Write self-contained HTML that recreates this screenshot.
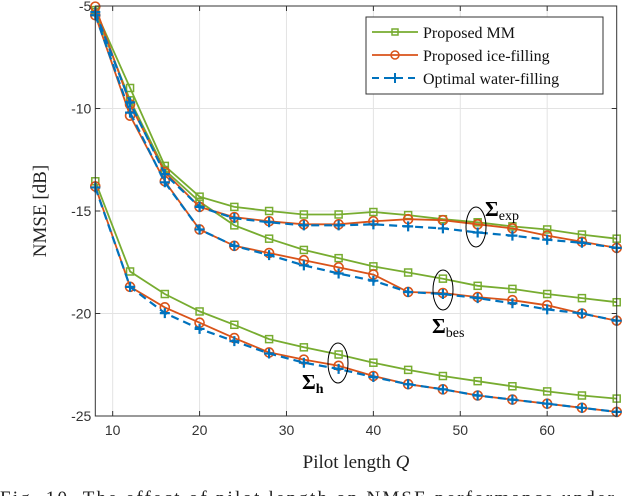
<!DOCTYPE html>
<html><head><meta charset="utf-8"><style>
body{margin:0;background:#fff}
svg{display:block;font-family:"Liberation Sans",sans-serif}
.serif{font-family:"Liberation Serif",serif}
</style></head><body>
<svg id="chart" width="622" height="496" viewBox="0 0 622 496" xmlns="http://www.w3.org/2000/svg">
<g id="grid"></g>
<g id="series"></g>
<g id="axes"></g>
<text class="serif" transform="translate(46,211) rotate(-90)" text-anchor="middle" font-size="19" fill="#222">NMSE [dB]</text>
<text class="serif" x="356" y="468" text-anchor="middle" font-size="19" fill="#222">Pilot length <tspan font-style="italic">Q</tspan></text>
<text class="serif" x="0" y="504" font-size="19" textLength="640" lengthAdjust="spacing" fill="#222">Fig. 10.   The effect of pilot length on NMSE performance under th</text>
<g fill="none" stroke="#000" stroke-width="1">
<ellipse cx="476" cy="227" rx="10" ry="20"/>
<ellipse cx="443" cy="290" rx="10" ry="20"/>
<ellipse cx="338" cy="363" rx="10" ry="20"/>
</g>
<text class="serif" x="485" y="216" font-size="21" font-weight="bold">Σ<tspan font-size="14" font-weight="normal" dy="4">exp</tspan></text>
<text class="serif" x="432" y="333" font-size="21" font-weight="bold">Σ<tspan font-size="14" font-weight="normal" dy="4">bes</tspan></text>
<text class="serif" x="302" y="389" font-size="21" font-weight="bold">Σ<tspan font-size="14" font-weight="bold" dy="4">h</tspan></text>
<g>
<rect x="366" y="17" width="237" height="77" fill="#fff" stroke="#333" stroke-width="1"/>
<g>
<line x1="372" y1="32" x2="418" y2="32" stroke="#77ac30" stroke-width="1.8"/>
<rect x="392" y="29" width="6" height="6" fill="none" stroke="#77ac30" stroke-width="1.5"/>
<text class="serif" x="423" y="38" font-size="16" fill="#111">Proposed MM</text></g>
<g>
<line x1="372" y1="55" x2="418" y2="55" stroke="#d95319" stroke-width="1.8"/>
<circle cx="395" cy="55" r="4" fill="none" stroke="#d95319" stroke-width="1.5"/>
<text class="serif" x="423" y="61" font-size="16" fill="#111">Proposed ice-filling</text></g>
<g>
<line x1="372" y1="78" x2="418" y2="78" stroke="#0072bd" stroke-width="2" stroke-dasharray="7,5"/>
<path d="M390 78h10M395 73v10" stroke="#0072bd" stroke-width="2"/>
<text class="serif" x="423" y="84" font-size="16" fill="#111">Optimal water-filling</text></g>
</g>
</svg>
<script>
const Q = [8,12,16,20,24,28,32,36,40,44,48,52,56,60,64,68];
const xTicks = [10,20,30,40,50,60];
const yTicks = [-5,-10,-15,-20,-25];
const mmExp = [-5.2,-9.0,-12.8,-14.3,-14.8,-15.0,-15.17,-15.17,-15.05,-15.2,-15.4,-15.55,-15.75,-15.9,-16.15,-16.35];
const iceExp = [-5.03,-9.8,-13.1,-14.8,-15.3,-15.5,-15.65,-15.65,-15.5,-15.4,-15.45,-15.65,-15.85,-16.2,-16.5,-16.8];
const waterExp = [-5.3,-9.7,-13.2,-14.8,-15.35,-15.55,-15.7,-15.7,-15.65,-15.75,-15.85,-16.05,-16.2,-16.4,-16.55,-16.8];
const mmBes = [-5.3,-9.6,-13.0,-14.55,-15.7,-16.35,-16.9,-17.3,-17.7,-18.0,-18.3,-18.65,-18.8,-19.05,-19.25,-19.45];
const iceBes = [-5.45,-10.35,-13.55,-15.9,-16.7,-17.05,-17.4,-17.75,-18.1,-18.95,-19.0,-19.2,-19.35,-19.6,-20.0,-20.35];
const waterBes = [-5.45,-10.2,-13.6,-15.9,-16.7,-17.15,-17.65,-18.05,-18.4,-18.95,-19.05,-19.25,-19.5,-19.8,-20.0,-20.35];
const mmH = [-13.55,-17.95,-19.05,-19.9,-20.55,-21.25,-21.65,-22.0,-22.4,-22.75,-23.05,-23.3,-23.55,-23.8,-24.0,-24.15];
const iceH = [-13.8,-18.7,-19.7,-20.45,-21.2,-21.9,-22.25,-22.55,-23.05,-23.45,-23.7,-24.0,-24.2,-24.4,-24.6,-24.8];
const waterH = [-13.85,-18.7,-19.98,-20.75,-21.35,-21.95,-22.4,-22.7,-23.1,-23.45,-23.7,-24.0,-24.2,-24.4,-24.6,-24.8];

const NS="http://www.w3.org/2000/svg";
const X0=95.3,X1=616.7,Y0=6,Y1=416;
const sx=v=>X0+(v-8)/(68-8)*(X1-X0);
const sy=v=>Y0+(-5-v)/(20)*(Y1-Y0);
function mk(tag,parent,attrs){const e=document.createElementNS(NS,tag);for(const k in attrs)e.setAttribute(k,attrs[k]);parent.appendChild(e);return e;}
const grid=document.getElementById('grid'),axes=document.getElementById('axes'),ser=document.getElementById('series');
mk('rect',grid,{x:X0,y:Y0,width:X1-X0,height:Y1-Y0,fill:'#fff'});
xTicks.forEach(t=>{
  const l=mk('line',grid,{x1:sx(t),x2:sx(t),y1:Y0,y2:Y1,stroke:'#e3e3e3','stroke-width':1});
  
  
  mk('line',axes,{x1:sx(t),x2:sx(t),y1:Y1,y2:Y1-5,stroke:'#333'});
  mk('line',axes,{x1:sx(t),x2:sx(t),y1:Y0,y2:Y0+5,stroke:'#333'});
  const tx=mk('text',axes,{x:sx(t),y:Y1+19,'text-anchor':'middle','font-size':14,fill:'#333'});
  tx.textContent=t;
  
  
});
yTicks.forEach(t=>{
  const l=mk('line',grid,{x1:X0,x2:X1,y1:sy(t),y2:sy(t),stroke:'#e3e3e3','stroke-width':1});
  
  
  mk('line',axes,{x1:X0,x2:X0+5,y1:sy(t),y2:sy(t),stroke:'#333'});
  mk('line',axes,{x1:X1,x2:X1-5,y1:sy(t),y2:sy(t),stroke:'#333'});
  const tx=mk('text',axes,{x:X0-4,y:sy(t)+5,'text-anchor':'end','font-size':14,fill:'#333'});
  tx.textContent=t;
  
  
});
mk('rect',axes,{x:X0,y:Y0,width:X1-X0,height:Y1-Y0,fill:'none',stroke:'#333','stroke-width':1});
function draw(vals,color,marker,dash,name){
  const g=mk('g',ser,{});
  
  
  const pts=vals.map((v,i)=>sx(Q[i]).toFixed(1)+','+sy(v).toFixed(1)).join(' ');
  const a={points:pts,fill:'none',stroke:color,'stroke-width':marker==='plus'?2.2:1.8};
  if(dash)a['stroke-dasharray']='8,5';
  mk('polyline',g,a);
  vals.forEach((v,i)=>{
    const x=sx(Q[i]),y=sy(v);let m;
    if(marker==='sq')m=mk('rect',g,{x:x-3.5,y:y-3.5,width:7,height:7,fill:'none',stroke:color,'stroke-width':1.5});
    else if(marker==='circ')m=mk('circle',g,{cx:x,cy:y,r:4.5,fill:'none',stroke:color,'stroke-width':1.6});
    else m=mk('path',g,{d:`M${x-5} ${y}h10M${x} ${y-5}v10`,stroke:color,'stroke-width':2.2});
    
    
  });
}
const G='#77ac30',O='#d95319',B='#0072bd';
draw(mmExp,G,'sq',false,'series-mm-exp');
draw(mmBes,G,'sq',false,'series-mm-bes');
draw(mmH,G,'sq',false,'series-mm-h');
draw(iceExp,O,'circ',false,'series-ice-exp');
draw(iceBes,O,'circ',false,'series-ice-bes');
draw(iceH,O,'circ',false,'series-ice-h');
draw(waterExp,B,'plus',true,'series-water-exp');
draw(waterBes,B,'plus',true,'series-water-bes');
draw(waterH,B,'plus',true,'series-water-h');
</script>
</body></html>
